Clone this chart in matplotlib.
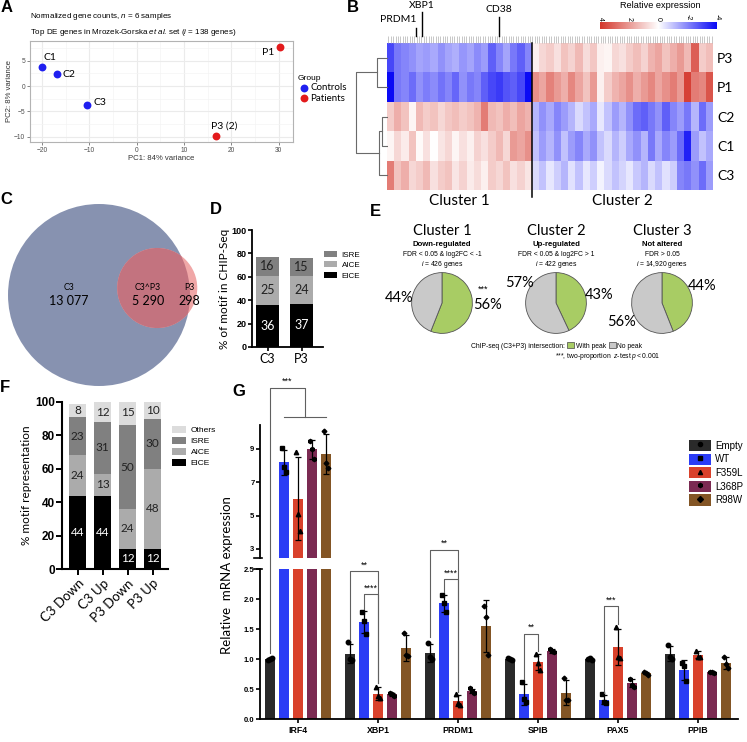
# Multi-panel figure: PCA, heatmap, Venn, motif bars, pies and qPCR bars

import numpy as np
import matplotlib
matplotlib.use("Agg")
import matplotlib.pyplot as plt
import matplotlib.transforms as mtransforms
from matplotlib.colors import LinearSegmentedColormap
from matplotlib.patches import Circle, Patch
from matplotlib.lines import Line2D

# ---------------- data ----------------
# A: PCA
pca_samples = ["C1", "C2", "C3", "P1", "P3 (2)"]
pca_group = ["Controls", "Controls", "Controls", "Patients", "Patients"]
pc1 = [-20.0, -16.8, -10.5, 30.2, 16.7]
pc2 = [3.8, 2.3, -3.7, 7.8, -9.8]

# B: heatmap (positive = red), 20 blocks in cluster 1, 25 in cluster 2
hm_rows = ["P3", "P1", "C2", "C1", "C3"]
hm_P3 = [-3.0, -2.2, -2.0, -1.8, -1.5, -1.6, -1.4, -1.8, -1.5, -1.3, -1.7, -1.5, -1.9, -1.6, -2.6, -2.0, -1.5, -2.2, -2.6, -2.0,
         0.3, 0.8, 1.0, 0.6, 1.2, 0.9, 1.4, 0.7, 1.1, 0.3, 0.2, 0.8, 0.6, 1.0, 1.3, 0.9, 1.5, 1.8, 1.2, 1.6, 2.0, 1.4, 3.2, 1.0, 1.3]
hm_P1 = [-4.0, -2.2, -2.0, -2.4, -1.8, -2.1, -1.9, -2.3, -2.0, -2.5, -1.8, -2.2, -2.0, -2.6, -3.0, -3.2, -2.8, -2.6, -3.0, -4.0,
         2.2, 1.8, 2.5, 2.0, 1.6, 2.4, 1.8, 1.2, 2.0, 0.3, 1.0, 1.5, 1.8, 2.2, 1.6, 2.0, 2.4, 1.8, 2.2, 2.6, 2.0, 3.8, 2.6, 2.4, 3.4]
hm_C2 = [1.0, 1.6, 1.2, 0.2, 1.4, 1.0, 1.2, 0.8, 1.1, 1.3, 1.0, 1.2, 1.5, 2.6, 1.4, 1.2, 1.6, 1.3, 1.8, 1.5,
         -1.2, -1.8, -1.4, -2.0, -1.6, -1.2, -0.6, -1.0, -1.4, -0.4, -1.0, -1.6, -1.2, -1.8, -2.4, -2.6, -2.2, -1.8, -2.6, -2.0, -1.6, -2.2, -1.2, -2.4, -1.6]
hm_C1 = [0.2, 0.8, 0.4, 1.2, 0.1, 0.6, 0.0, 0.5, 0.8, 0.2, 0.6, 0.3, 0.9, 0.6, 1.0, 1.4, 0.8, 2.0, 1.8, 2.2,
         -1.0, -1.6, -1.2, -1.8, -1.0, -1.6, -2.0, -1.4, -1.8, -1.0, -0.6, -1.2, -0.8, -1.4, -1.8, -1.2, -2.2, -1.4, -2.0, -1.6, -2.4, -3.6, -1.6, -1.0, -1.4]
hm_C3 = [2.6, 1.2, 1.6, 0.8, 1.0, 1.4, 0.6, 1.0, 1.2, 0.5, 0.9, 0.4, 0.7, 0.3, 1.0, 0.8, 1.2, 0.6, 0.9, 0.5,
         -0.6, -1.0, -0.4, -0.8, -1.2, -0.5, -1.0, -0.4, -0.8, -0.2, -0.6, -1.0, -0.7, -0.4, -0.9, -1.2, -0.6, -1.0, -0.5, -0.8, -2.0, -2.2, -1.8, -2.4, -1.6]
n_cluster1 = 20
n_genes_hm = 138
hm_genes = {"PRDM1": 4.0, "XBP1": 4.8, "CD38": 15.5}
# dendrogram merge heights
h_P = 11
h_C12 = 6
h_C = 9
h_root = 31

# C: Venn counts
venn_labels = ["C3", "C3^P3", "P3"]
venn_counts = ["13 077", "5 290", "298"]

# D: motif in ChIP-seq
d_samples = ["C3", "P3"]
d_eice = [36, 37]
d_aice = [25, 24]
d_isre = [16, 15]

# E: pies
e_titles = ["Cluster 1", "Cluster 2", "Cluster 3"]
e_direction = ["Down-regulated", "Up-regulated", "Not altered"]
e_criteria = ["FDR < 0.05 & log2FC < -1", "FDR < 0.05 & log2FC > 1", "FDR > 0.05"]
e_ngenes = ["426", "422", "14,920"]
e_with_peak = [56, 43, 44]
e_no_peak = [44, 57, 56]

# F: motif representation
f_groups = ["C3 Down", "C3 Up", "P3 Down", "P3 Up"]
f_eice = [44, 44, 12, 12]
f_aice = [24, 13, 24, 48]
f_isre = [23, 31, 50, 30]
f_others = [8, 12, 15, 10]

# G: qPCR replicates
g_genes = ["IRF4", "XBP1", "PRDM1", "SPIB", "PAX5", "PPIB"]
g_variants = ["Empty", "WT", "F359L", "L368P", "R98W"]
rep_empty = [[0.98, 1.0, 1.01], [1.28, 1.0, 0.99], [1.27, 1.03, 1.0], [1.02, 1.0, 0.98], [1.0, 1.01, 0.99], [1.24, 1.03, 1.0]]
rep_wt = [[9.05, 7.93, 7.6], [1.78, 1.64, 1.42], [2.07, 1.93, 1.79], [0.61, 0.33, 0.29], [0.41, 0.29, 0.27], [0.94, 0.89, 0.63]]
rep_f359l = [[8.82, 5.12, 4.1], [0.54, 0.38, 0.35], [0.41, 0.27, 0.24], [1.09, 0.93, 0.82], [1.54, 1.03, 1.02], [1.14, 1.04, 1.03]]
rep_l368p = [[9.5, 9.0, 8.4], [0.43, 0.41, 0.39], [0.51, 0.46, 0.43], [1.16, 1.13, 1.11], [0.67, 0.57, 0.54], [0.79, 0.78, 0.77]]
rep_r98w = [[10.07, 8.16, 7.87], [1.44, 1.06, 1.05], [1.88, 1.7, 1.07], [0.68, 0.32, 0.31], [0.78, 0.77, 0.74], [1.04, 0.92, 0.85]]
# significance: gene, variant a, variant b, bracket top, bottom a, bottom b, label
g_sig = [
    (1, 0, 2, 2.46, 1.32, 0.60, "**"),
    (1, 1, 2, 2.08, 1.83, 0.60, "****"),
    (2, 0, 2, 2.82, 1.36, 0.45, "**"),
    (2, 1, 2, 2.33, 2.12, 0.45, "****"),
    (3, 1, 2, 1.42, 0.67, 1.13, "**"),
    (4, 1, 2, 1.88, 0.44, 1.58, "***"),
]

# ---------------- style ----------------
plt.rcParams["font.family"] = "Liberation Sans"
plt.rcParams["mathtext.fontset"] = "custom"
plt.rcParams["mathtext.rm"] = "Liberation Sans"
plt.rcParams["mathtext.it"] = "Liberation Sans:italic"
CAL = "Lato"

W, H = 747, 742
fig = plt.figure(figsize=(W / 100, H / 100), dpi=100)


def px_axes(left, top, right, bottom):
    return fig.add_axes([left / W, 1 - bottom / H, (right - left) / W, (bottom - top) / H])


ov = fig.add_axes([0, 0, 1, 1], zorder=10)
ov.set_xlim(0, W)
ov.set_ylim(H, 0)
ov.axis("off")

for letter, x, y in [("A", 1, 8), ("B", 347, 8), ("C", 0, 200), ("D", 210, 209),
                     ("E", 370, 212), ("F", 0, 387), ("G", 232, 392)]:
    ov.text(x, y, letter, fontsize=12, fontweight="bold", va="center", ha="left")

# ---------------- A ----------------
axA = px_axes(30, 41, 293, 142)
grp_colors = {"Controls": "#1F1FF0", "Patients": "#E31A1C"}
for g in ["Controls", "Patients"]:
    xs = [x for x, gg in zip(pc1, pca_group) if gg == g]
    ys = [y for y, gg in zip(pc2, pca_group) if gg == g]
    axA.scatter(xs, ys, s=32, color=grp_colors[g], label=g, zorder=3, linewidths=0)
axA.set_xlim(-22.5, 33)
axA.set_ylim(-11.05, 8.9)
axA.set_xticks([-20, -10, 0, 10, 20, 30])
axA.set_yticks([-10, -5, 0, 5])
axA.set_xticks([-15, -5, 5, 15, 25], minor=True)
axA.set_yticks([-7.5, -2.5, 2.5, 7.5], minor=True)
axA.grid(True, which="major", color="#EBEBEB", lw=0.8)
axA.grid(True, which="minor", color="#F4F4F4", lw=0.5)
axA.set_axisbelow(True)
axA.tick_params(which="major", labelsize=4.8, labelcolor="#4D4D4D", length=2, width=0.5, color="#555", pad=1.5)
axA.tick_params(which="minor", length=0)
for s in axA.spines.values():
    s.set_color("#B3B3B3")
    s.set_linewidth(0.8)
axA.set_xlabel("PC1: 84% variance", fontsize=5.6, color="#333", labelpad=1)
axA.set_ylabel("PC2: 8% variance", fontsize=5.6, color="#333", labelpad=1)
label_off = {"C1": (1, 7, "left"), "C2": (4, 0, "left"), "C3": (5, 2, "left"),
             "P1": (-4, -4, "right"), "P3 (2)": (6, 7, "center")}
for name, x, y in zip(pca_samples, pc1, pc2):
    dx, dy, ha = label_off[name]
    axA.annotate(name, (x, y), xytext=(dx, dy), textcoords="offset points",
                 ha=ha, va="center", fontsize=7.5, family=CAL)
legA = axA.legend(title="Group", loc="upper left", bbox_to_anchor=(293 / W, 1 - 70 / H),
                  bbox_transform=fig.transFigure, frameon=False, prop={"family": CAL, "size": 7},
                  title_fontsize=6, handletextpad=0.0, borderpad=0, labelspacing=0.15,
                  alignment="left", handlelength=1.3)
ov.text(30, 16, r"Normalized gene counts, $\it{n}$ = 6 samples", fontsize=5.8, va="center")
ov.text(30, 32, r"Top DE genes in Mrozek-Gorska $\it{et\ al}$. set ($\it{i}$ = 138 genes)", fontsize=5.8, va="center")

# ---------------- B ----------------
cmap = LinearSegmentedColormap.from_list("rwb", ["#0A0AF5", "#FFFFFF", "#D4372C"])
hm = np.array([hm_P3, hm_P1, hm_C2, hm_C1, hm_C3])
axB = px_axes(387, 43, 713, 190)
axB.pcolormesh(np.arange(hm.shape[1] + 1), np.arange(hm.shape[0] + 1), hm, cmap=cmap, vmin=-4, vmax=4)
axB.set_xlim(0, hm.shape[1])
axB.set_ylim(hm.shape[0], 0)
for s in axB.spines.values():
    s.set_visible(False)
axB.yaxis.tick_right()
axB.set_yticks(np.arange(len(hm_rows)) + 0.5)
axB.set_yticklabels(hm_rows, fontsize=10, family=CAL)
axB.tick_params(axis="y", length=0, pad=3)
axB.xaxis.tick_top()
axB.set_xticks(np.linspace(0.2, hm.shape[1] - 0.2, n_genes_hm))
axB.set_xticklabels([])
axB.tick_params(axis="x", length=5, width=0.5, color="#B0B0B0", pad=0)
axB.axvline(n_cluster1, ymin=-0.05, ymax=1.0, color="black", lw=1.1, clip_on=False)
tB = mtransforms.blended_transform_factory(axB.transData, ov.transData)
for gname, x in hm_genes.items():
    top = {"PRDM1": 28, "XBP1": 12, "CD38": 17}[gname]
    ov.plot([x, x], [top, 36], color="black", lw=1.0, transform=tB)
ov.text(hm_genes["PRDM1"], 19, "PRDM1", transform=tB, ha="right", va="center", fontsize=7.5, family=CAL)
ov.text(hm_genes["XBP1"], 5, "XBP1", transform=tB, ha="center", va="center", fontsize=7.5, family=CAL)
ov.text(hm_genes["CD38"], 10, "CD38", transform=tB, ha="center", va="center", fontsize=7.5, family=CAL)
ov.text(n_cluster1 / 2, 201, "Cluster 1", transform=tB, ha="center", va="center", fontsize=11, family=CAL)
ov.text((n_cluster1 + hm.shape[1]) / 2, 201, "Cluster 2", transform=tB, ha="center", va="center", fontsize=11, family=CAL)

# dendrogram
axDen = px_axes(355, 43, 388, 190)
axDen.set_xlim(h_root + 1, 0)
axDen.set_ylim(5, 0)
axDen.axis("off")
dc = "#6A6A6A"


def merge(ax, y1, h1, y2, h2, h):
    ax.plot([h1, h, h, h2], [y1, y1, y2, y2], color=dc, lw=0.8)


merge(axDen, 0.5, 0, 1.5, 0, h_P)
merge(axDen, 2.5, 0, 3.5, 0, h_C12)
merge(axDen, 3.0, h_C12, 4.5, 0, h_C)
merge(axDen, 1.0, h_P, 3.75, h_C, h_root)

# colour bar
axCB = px_axes(600, 22, 717, 29)
axCB.imshow(np.linspace(4, -4, 256)[None, :], cmap=cmap, vmin=-4, vmax=4, aspect="auto", extent=(4, -4, 0, 1))
axCB.set_xlim(4, -4)
axCB.set_yticks([])
axCB.xaxis.tick_top()
axCB.set_xticks([4, 2, 0, -2, -4])
axCB.set_xticklabels(["4", "2", "0", "-2", "-4"], rotation=-90, fontsize=5)
axCB.tick_params(axis="x", length=0, pad=1)
for s in axCB.spines.values():
    s.set_visible(False)
ov.text(660, 5, "Relative expression", ha="center", va="center", fontsize=6.6)

# ---------------- C ----------------
axC = px_axes(4, 200, 204, 390)
axC.set_xlim(-1.044, 1.154)
axC.set_ylim(-1.044, 1.044)
axC.axis("off")
big = Circle((0, 0), 1.0, color="#8792B0", lw=0)
axC.add_patch(big)
small = Circle((0.64, 0.077), 0.44, color="#F0A7A7", lw=0)
axC.add_patch(small)
inter = Circle((0.64, 0.077), 0.44, color="#C3737F", lw=0)
axC.add_patch(inter)
inter.set_clip_path(big)
for (x, lab, cnt) in zip([-0.33, 0.54, 0.99], venn_labels, venn_counts):
    axC.text(x, 0.077, lab, ha="center", va="center", fontsize=6.3, family=CAL)
    axC.text(x, -0.07, cnt, ha="center", va="center", fontsize=9, family=CAL)

# ---------------- D ----------------
motif_col = {"EICE": "#000000", "AICE": "#ABABAB", "ISRE": "#808080", "Others": "#DCDCDC"}
axDd = px_axes(252, 230, 323, 347)
xd = np.arange(len(d_samples))
bottom = np.zeros(len(d_samples))
for name, vals in [("EICE", d_eice), ("AICE", d_aice), ("ISRE", d_isre)]:
    axDd.bar(xd, vals, bottom=bottom, width=0.68, color=motif_col[name], label=name)
    for x, b, v in zip(xd, bottom, vals):
        axDd.text(x, b + v / 2, str(v), ha="center", va="center", fontsize=9, family=CAL,
                  color="white" if name == "EICE" else "#222")
    bottom += np.array(vals)
axDd.set_xlim(-0.456, 1.63)
axDd.set_ylim(0, 100)
axDd.set_yticks([0, 20, 40, 60, 80, 100])
axDd.set_xticks(xd)
axDd.set_xticklabels(d_samples, fontsize=9, family=CAL)
for lab in axDd.get_yticklabels():
    lab.set_fontweight("bold")
axDd.tick_params(axis="y", labelsize=6.5, length=3, width=1.2, pad=1)
axDd.tick_params(axis="x", length=3, width=1.2, pad=1)
for s in ["top", "right"]:
    axDd.spines[s].set_visible(False)
for s in ["left", "bottom"]:
    axDd.spines[s].set_linewidth(1.3)
axDd.set_ylabel("% of motif in CHIP-Seq", fontsize=8.5, family=CAL, labelpad=1)
h, l = axDd.get_legend_handles_labels()
axDd.legend(h[::-1], l[::-1], loc="upper left", bbox_to_anchor=(320 / W, 1 - 247 / H),
            bbox_transform=fig.transFigure, frameon=False, fontsize=5.8, handlelength=1.6,
            handleheight=0.8, labelspacing=0.3, borderpad=0, handletextpad=0.6)

# ---------------- E ----------------
green, grey = "#A8CC64", "#C9C9C9"
pie_cx = [442, 556, 662]
for i, cx in enumerate(pie_cx):
    axE = px_axes(cx - 31, 272, cx + 31, 334)
    axE.pie([e_with_peak[i], e_no_peak[i]], colors=[green, grey], startangle=90, counterclock=False,
            radius=1, wedgeprops={"edgecolor": "#555", "linewidth": 0.6})
    axE.set_xlim(-1.02, 1.02)
    axE.set_ylim(-1.02, 1.02)
    ov.text(cx, 231, e_titles[i], ha="center", va="center", fontsize=10.5, family=CAL)
    ov.text(cx, 245, e_direction[i], ha="center", va="center", fontsize=5.6, fontweight="bold")
    ov.text(cx, 254, e_criteria[i], ha="center", va="center", fontsize=4.9)
    ov.text(cx, 264, r"$\it{i}$ = " + e_ngenes[i] + " genes", ha="center", va="center", fontsize=4.9)
# (with-peak label position, no-peak label position)
pct_pos = [((487, 305), (399, 298)), ((599, 295), (520, 283)), ((702, 286), (621, 322))]
for i, (pw, pn) in enumerate(pct_pos):
    ov.text(pw[0], pw[1], "%d%%" % e_with_peak[i], ha="center", va="center", fontsize=10.5, family=CAL)
    ov.text(pn[0], pn[1], "%d%%" % e_no_peak[i], ha="center", va="center", fontsize=10.5, family=CAL)
ov.text(483, 289, "***", ha="center", va="center", fontsize=6.5)
ov.text(565, 346, "ChIP-seq (C3+P3) intersection:", ha="right", va="center", fontsize=4.9)
fig.legend([Patch(facecolor=green, edgecolor="#444", lw=0.5), Patch(facecolor=grey, edgecolor="#444", lw=0.5)],
           ["With peak", "No peak"], ncol=2, loc="center left", bbox_to_anchor=(564 / W, 1 - 346 / H),
           frameon=False, fontsize=4.9, handlelength=1.0, handleheight=1.0, columnspacing=0.5,
           handletextpad=0.2, borderpad=0)
ov.text(660, 356, r"***, two-proportion  $\it{z}$-test $\it{p}$$\it{<0.001}$", ha="right", va="center", fontsize=4.9)

# ---------------- F ----------------
axF = px_axes(62, 402, 168, 569)
xf = np.arange(len(f_groups))
bottom = np.zeros(len(f_groups))
for name, vals in [("EICE", f_eice), ("AICE", f_aice), ("ISRE", f_isre), ("Others", f_others)]:
    axF.bar(xf, vals, bottom=bottom, width=0.68, color=motif_col[name], label=name)
    for x, b, v in zip(xf, bottom, vals):
        axF.text(x, b + v / 2, str(v), ha="center", va="center", fontsize=8.5, family=CAL,
                 color="white" if name == "EICE" else "#222")
    bottom += np.array(vals)
axF.set_xlim(-0.62, 3.62)
axF.set_ylim(0, 100)
axF.set_yticks([0, 20, 40, 60, 80, 100])
axF.set_xticks(xf)
axF.set_xticklabels(f_groups, rotation=45, ha="right", rotation_mode="anchor", fontsize=9.5, family=CAL)
for lab in axF.get_yticklabels():
    lab.set_fontweight("bold")
axF.tick_params(axis="y", labelsize=8.5, length=4, width=1.4, pad=1)
axF.tick_params(axis="x", length=4, width=1.4, pad=2)
for s in ["top", "right"]:
    axF.spines[s].set_visible(False)
for s in ["left", "bottom"]:
    axF.spines[s].set_linewidth(1.5)
axF.set_ylabel("% motif representation", fontsize=8.5, family=CAL, labelpad=2)
h, l = axF.get_legend_handles_labels()
axF.legend(h[::-1], l[::-1], loc="upper left", bbox_to_anchor=(168 / W, 1 - 422 / H),
           bbox_transform=fig.transFigure, frameon=False, fontsize=6, handlelength=1.6,
           handleheight=0.8, labelspacing=0.35, borderpad=0, handletextpad=0.6)

# ---------------- G ----------------
g_colors = ["#2A2A2A", "#2B3CF5", "#D9412B", "#7B2A52", "#835525"]
g_markers = ["o", "s", "^", "h", "D"]
g_msize = [3.2, 3.2, 3.2, 3.0, 2.4]
all_reps = [rep_empty, rep_wt, rep_f359l, rep_l368p, rep_r98w]
step, bw = 0.175, 0.116

axU = px_axes(260, 425, 738, 558)
axL = px_axes(260, 569, 738, 719)


def bar_x(gene, j):
    return gene + (j - 2) * step


for ax in (axU, axL):
    for j, reps in enumerate(all_reps):
        reps = np.array(reps)
        means = reps.mean(axis=1)
        sds = reps.std(axis=1, ddof=1)
        xs = np.array([bar_x(i, j) for i in range(len(g_genes))])
        ax.bar(xs, means, width=bw, color=g_colors[j], zorder=2)
        ax.errorbar(xs, means, yerr=sds, fmt="none", ecolor="black", elinewidth=0.9,
                    capsize=2.2, capthick=0.9, zorder=3)
        for k in range(reps.shape[1]):
            ax.plot(xs + (k - 1) * 0.025, reps[:, k], ls="none", marker=g_markers[j],
                    ms=g_msize[j], color="black", zorder=4)
    ax.set_xlim(-0.475, 5.5)
    for s in ["top", "right"]:
        ax.spines[s].set_visible(False)
    ax.spines["left"].set_linewidth(1.3)
    ax.tick_params(axis="y", labelsize=5.5, length=3, width=1.2, pad=1)

axU.set_ylim(2.46, 10.43)
axU.set_yticks([3, 5, 7, 9])
axU.spines["bottom"].set_visible(False)
axU.set_xticks([])
axL.set_ylim(0, 2.5)
axL.set_yticks([0, 0.5, 1.0, 1.5, 2.0, 2.5])
axL.set_yticklabels(["0.0", "0.5", "1.0", "1.5", "2.0", "2.5"])
axL.spines["bottom"].set_linewidth(1.3)
axL.set_xticks(np.arange(len(g_genes)))
axL.set_xticklabels(g_genes, fontsize=6.3, fontweight="bold")
axL.tick_params(axis="x", length=3, width=1.2, pad=2)
for ax in (axU, axL):
    for lab in ax.get_yticklabels():
        lab.set_fontweight("bold")
# axis break marks
axU.plot([-0.012, 0.004], [0, 0], transform=axU.transAxes, color="black", lw=1.2, clip_on=False)
axL.plot([-0.012, 0.004], [1, 1], transform=axL.transAxes, color="black", lw=1.2, clip_on=False)

ov.text(227, 575, "Relative  mRNA expression", rotation=90, ha="center", va="center", fontsize=9.5, family=CAL)

# significance brackets (lower axis data coordinates)
bc = "#606060"
for gi, a, b, top, ya, yb, lab in g_sig:
    xa, xb = bar_x(gi, a), bar_x(gi, b)
    axL.plot([xa, xa, xb, xb], [ya, top, top, yb], color=bc, lw=0.8, clip_on=False, zorder=5)
    axL.text((xa + xb) / 2, top + 0.03, lab, ha="center", va="bottom", fontsize=6.5, clip_on=False)
# IRF4 bracket: Empty vs all variants
x_e = bar_x(0, 0)
x_g1, x_g2 = bar_x(0, 1), bar_x(0, 4)
x_mid = (x_g1 + x_g2) / 2
axL.plot([x_g1, x_g2], [5.03, 5.03], color=bc, lw=0.8, clip_on=False)
axL.plot([x_e, x_e, x_mid, x_mid], [1.1, 5.52, 5.52, 5.03], color=bc, lw=0.8, clip_on=False)
axL.text((x_e + x_mid) / 2, 5.55, "***", ha="center", va="bottom", fontsize=6.5, clip_on=False)

g_handles = [(Patch(facecolor=c), Line2D([], [], ls="none", marker=m, color="black", ms=3))
             for c, m in zip(g_colors, g_markers)]
axL.legend(g_handles, g_variants, loc="upper left", bbox_to_anchor=(684 / W, 1 - 435 / H),
           bbox_transform=fig.transFigure, frameon=False, fontsize=7, handlelength=2.3,
           handleheight=1.4, labelspacing=0.25, borderpad=0, handletextpad=0.4)

fig.savefig("out.png", dpi=100)
